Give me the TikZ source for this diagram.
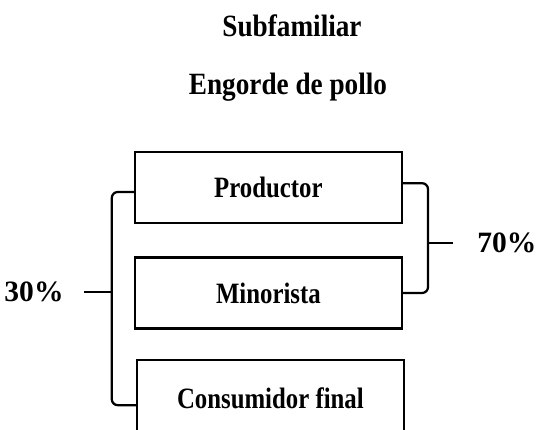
\documentclass[tikz,border=0pt]{standalone}
\usepackage{fontspec}
\setmainfont{Liberation Serif}
\newfontfamily\narrowfont[FakeStretch=0.84]{Liberation Serif}
\newfontfamily\titlefont[FakeStretch=0.88]{Liberation Serif}
\usepackage{tikz}

\begin{document}
\begin{tikzpicture}[
  box/.style={draw, line width=1.6pt, minimum width=6.675cm, minimum height=1.775cm,
    inner sep=0pt, font=\narrowfont\fontsize{21}{23}\selectfont\bfseries},
  title/.style={inner sep=0pt, font=\titlefont\fontsize{22}{24}\selectfont\bfseries},
  pct/.style={inner sep=0pt, font=\fontsize{21}{23}\selectfont\bfseries},
  brace/.style={line width=1.6pt, rounded corners=0.15cm}
]
  \useasboundingbox (0,0) rectangle (13.925,10.75);

  % Titles
  \node[title, anchor=base] (sub) at (7.3,9.825) {Subfamiliar};
  \node[title, anchor=base] (eng) at (7.2,8.375) {Engorde de pollo};

  % Boxes
  \node[box] (prod) at (6.71,6.06) {Productor};
  \node[box] (mino) at (6.71,3.425) {Minorista};
  \node[box, minimum height=1.9cm] (cons) at (6.76,0.8) {Consumidor final};

  % Left bracket: 30%
  \coordinate (lb) at ([xshift=-0.55cm]prod.west);
  \draw[brace] ([yshift=-0.11cm]prod.west) -- ([yshift=-0.11cm]lb) |- ([yshift=-0.18cm]cons.west);
  \node[pct] (p30) at (0.85,3.45) {30\%};
  \draw[brace] ([xshift=0.5cm]p30.east) -- (lb |- p30.east);

  % Right bracket: 70%
  \coordinate (rb) at ([xshift=0.625cm]prod.east);
  \draw[brace] ([yshift=0.11cm]prod.east) -- ([yshift=0.11cm]rb) |- (mino.east);
  \node[pct, anchor=west] (p70) at (11.925,4.675) {70\%};
  \draw[brace] (rb |- p70.west) -- ([xshift=-0.6cm]p70.west);
\end{tikzpicture}
\end{document}
